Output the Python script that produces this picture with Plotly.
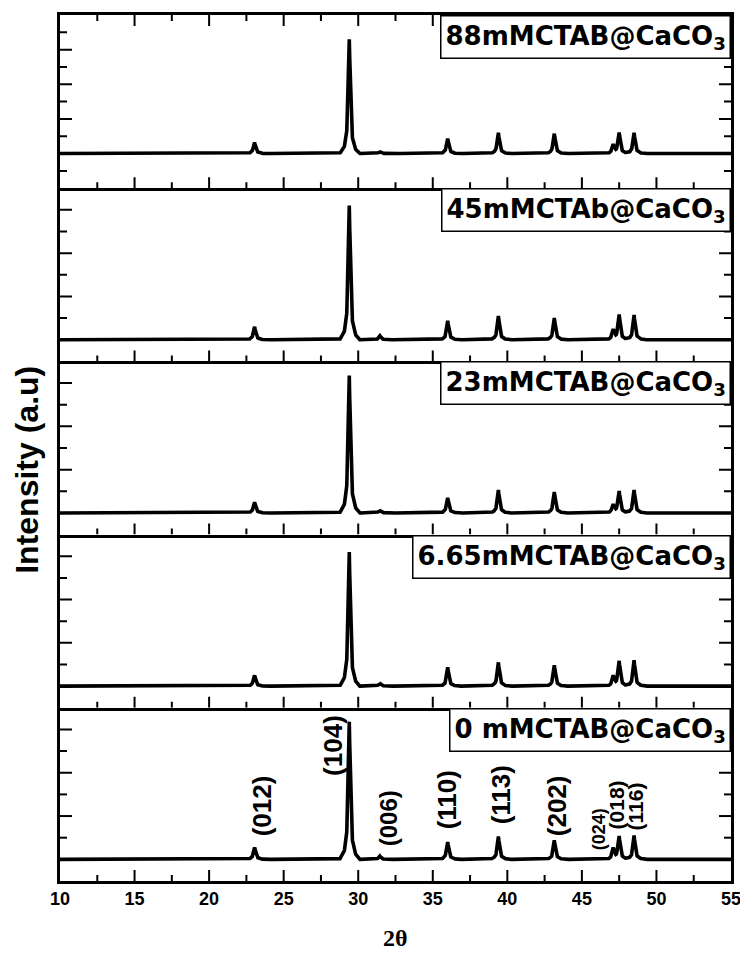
import numpy as np
import plotly.graph_objects as go
from plotly.subplots import make_subplots

# ---- data ----
peak_pos = [23.05, 29.4, 31.45, 36.0, 39.4, 43.15, 47.1, 47.5, 48.5]   # 2theta
samples = ["88mMCTAB@CaCO<sub>3</sub>", "45mMCTAb@CaCO<sub>3</sub>",
           "23mMCTAB@CaCO<sub>3</sub>", "6.65mMCTAB@CaCO<sub>3</sub>",
           "0 mMCTAB@CaCO<sub>3</sub>"]
h_88 = [0.64, 6.6, 0.12, 0.87, 1.2, 1.15, 0.5, 1.2, 1.2]
h_45 = [0.6, 6.2, 0.18, 0.88, 1.1, 1.0, 0.45, 1.15, 1.15]
h_23 = [0.5, 6.35, 0.12, 0.7, 1.06, 0.97, 0.37, 1.0, 1.06]
h_665 = [0.5, 6.2, 0.14, 0.87, 1.1, 0.97, 0.45, 1.15, 1.2]
h_0 = [0.55, 6.36, 0.15, 0.8, 1.06, 0.88, 0.5, 1.06, 1.1]
heights = [h_88, h_45, h_23, h_665, h_0]
hkl_labels = ["(012)", "(104)", "(006)", "(110)", "(113)", "(202)", "(024)", "(018)", "(116)"]
x_major = [10, 15, 20, 25, 30, 35, 40, 45, 50, 55]
x_minor = [12.5, 17.5, 22.5, 27.5, 32.5, 37.5, 42.5, 47.5, 52.5]
y_ticks_top = [-1, 0, 1, 2, 3, 4, 5, 6, 7]
y_ticks = [0, 1, 2, 3, 4, 5, 6]

# label placement (2theta, intensity) in bottom panel, and font sizes
hkl_pos = [(23.55, 2.45), (28.3, 5.28), (32.0, 1.9), (35.96, 2.73), (39.58, 2.96),
           (43.33, 2.5), (46.15, 1.39), (47.3, 2.5), (48.57, 2.45)]
hkl_size = [26, 26, 24, 26, 26, 26, 18, 21, 21]

# peak profile template (offset in degrees, fraction of height) -- drawing style
prof_dx = [-0.65, -0.35, -0.18, -0.1, 0.0, 0.1, 0.18, 0.35, 0.65]
prof_fr = [0.0, 0.05, 0.16, 0.45, 1.0, 0.45, 0.16, 0.05, 0.0]

X_RANGE = [10, 55]
Y_RANGE_TOP = [-2, 8]
Y_RANGE = [-1, 7]
NP = len(heights)

grid = np.round(np.arange(10, 55.0001, 0.01), 3)

def pattern(hs):
    y = np.zeros_like(grid)
    for p, h in zip(peak_pos, hs):
        y += h * np.interp(grid - p, prof_dx, prof_fr, left=0, right=0)
    return y

BLK = "black"
fig = make_subplots(rows=NP, cols=1, vertical_spacing=0)

def xtick(r, xv, yanchor, length):
    # tick mark drawn inside the frame, length in pixels (sign = direction)
    fig.add_shape(type="line", xref=f"x{r}" if r > 1 else "x", yref=f"y{r}" if r > 1 else "y",
                  x0=xv, x1=xv, ysizemode="pixel", yanchor=yanchor, y0=0, y1=length,
                  line=dict(color=BLK, width=2), layer="above")

def ytick(r, yv, xanchor, length):
    fig.add_shape(type="line", xref=f"x{r}" if r > 1 else "x", yref=f"y{r}" if r > 1 else "y",
                  y0=yv, y1=yv, xsizemode="pixel", xanchor=xanchor, x0=0, x1=length,
                  line=dict(color=BLK, width=2), layer="above")

for i, hs in enumerate(heights):
    r = i + 1
    yr = Y_RANGE_TOP if r == 1 else Y_RANGE
    fig.add_trace(go.Scatter(x=grid, y=pattern(hs), mode="lines",
                             line=dict(color=BLK, width=3.6)), row=r, col=1)
    xkw = dict(range=X_RANGE, showline=True, linecolor=BLK, linewidth=2.5,
               mirror=(r == 1), ticks="", tickmode="array", tickvals=x_major,
               ticktext=[str(v) for v in x_major],
               showgrid=False, zeroline=False, showticklabels=(r == NP), automargin=False)
    if r == NP:
        xkw["tickfont"] = dict(family="Liberation Sans", size=18, color=BLK, weight="bold")
    ykw = dict(range=yr, showline=True, linecolor=BLK, linewidth=2.5, mirror=True,
               ticks="", showgrid=False, zeroline=False, showticklabels=False,
               automargin=False)
    fig.update_xaxes(row=r, col=1, **xkw)
    fig.update_yaxes(row=r, col=1, **ykw)

    # x ticks: bottom of every panel (pointing up), top of first panel (pointing down)
    for xv in x_major:
        if X_RANGE[0] < xv < X_RANGE[1]:
            xtick(r, xv, yr[0], 11)
            if r == 1:
                xtick(r, xv, yr[1], -11)
    for xv in x_minor:
        xtick(r, xv, yr[0], 6)
        if r == 1:
            xtick(r, xv, yr[1], -6)
    # y ticks on both sides, pointing inward; even values long
    for yv in (y_ticks_top if r == 1 else y_ticks):
        ln = 12 if yv % 2 == 0 else 7
        ytick(r, yv, X_RANGE[0], ln)
        ytick(r, yv, X_RANGE[1], -ln)

    # sample label box at the top-right corner of each panel
    fig.add_annotation(text=samples[i], xref="paper", yref="paper", x=1, y=1 - i / NP,
                       xanchor="right", yanchor="top", showarrow=False,
                       font=dict(family="DejaVu Sans", size=26, color=BLK, weight="bold"),
                       bordercolor=BLK, borderwidth=1.5, borderpad=4, bgcolor="white")

# hkl labels of the bottom panel, converted to paper coordinates
for lab, (px, py), fs in zip(hkl_labels, hkl_pos, hkl_size):
    xp = (px - X_RANGE[0]) / (X_RANGE[1] - X_RANGE[0])
    yp = (py - Y_RANGE[0]) / (Y_RANGE[1] - Y_RANGE[0]) / NP
    fig.add_annotation(text=lab, x=xp, y=yp, xref="paper", yref="paper", showarrow=False,
                       textangle=-90, xanchor="center", yanchor="middle",
                       font=dict(family="Liberation Sans", size=fs, color=BLK, weight="bold"))

fig.add_annotation(text="Intensity (a.u)", xref="paper", yref="paper", x=-0.049, y=0.475,
                   textangle=-90, showarrow=False, xanchor="center", yanchor="middle",
                   font=dict(family="Liberation Sans", size=32, color=BLK, weight="bold"))
fig.add_annotation(text="2θ", xref="paper", yref="paper", x=0.5, y=-0.066,
                   showarrow=False, xanchor="center", yanchor="middle",
                   font=dict(family="Liberation Serif", size=24, color=BLK, weight="bold"))

# page body has an 8px default margin, so the figure is 8px smaller on each side
fig.update_layout(width=740, height=945, margin=dict(l=52, r=17, t=7, b=72),
                  paper_bgcolor="white", plot_bgcolor="white", showlegend=False)
fig.write_html("out.html")
